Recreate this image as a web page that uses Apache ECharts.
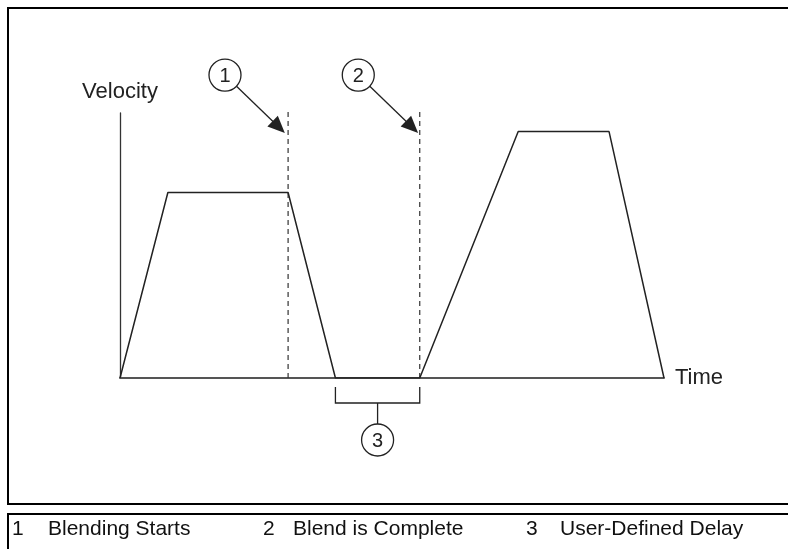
<!DOCTYPE html>
<html>
<head>
<meta charset="utf-8">
<script src="https://cdn.jsdelivr.net/npm/echarts@6/dist/echarts.min.js"></script>
<style>
  html, body { margin: 0; padding: 0; background: #fff; }
  #main { width: 788px; height: 549px; }
</style>
</head>
<body>
<div id="main"></div>
<script>
// velocity profile (time 0..100, velocity 0..100, arbitrary units)
const timePoints = [0, 8.8, 30.9, 39.6, 55.1, 73.2, 89.9, 100];
const velocityPoints = [0, 70, 70, 0, 0, 93, 93, 0];

// dashed markers: blending starts / blend is complete
const markerTimes = [30.9, 55.1];
const markerTop = 101.1;

// numbered callouts with arrows
const calloutLabels = ['1', '2'];
const calloutCircles = [[19.3, 114.3], [43.8, 114.3]];
const arrowTips = [[30.3, 92.5], [54.8, 92.5]];

// user-defined delay bracket
const delaySpan = [39.6, 55.1];
const delayLabel = '3';

// footer legend
const legendNums = ['1', '2', '3'];
const legendTexts = ['Blending Starts', 'Blend is Complete', 'User-Defined Delay'];

const FONT = "'Liberation Sans', Arial, sans-serif";
const INK = '#222';

const chart = echarts.init(document.getElementById('main'), null, { renderer: 'canvas' });

function circleWithNumber(x, y, text) {
  return [
    { type: 'circle', shape: { cx: x, cy: y, r: 16 }, style: { fill: '#fff', stroke: INK, lineWidth: 1.3 } },
    { type: 'text', style: { text: text, x: x, y: y + 1, align: 'center', verticalAlign: 'middle',
      font: '20px ' + FONT, fill: INK } }
  ];
}

function renderCallout(params, api) {
  const c = api.coord([api.value(0), api.value(1)]);
  const t = api.coord([api.value(2), api.value(3)]);
  const dx = t[0] - c[0], dy = t[1] - c[1];
  const len = Math.hypot(dx, dy);
  const ux = dx / len, uy = dy / len;
  const s = [c[0] + ux * 16, c[1] + uy * 16];
  const headLen = 17, headW = 7.5;
  const b = [t[0] - ux * headLen, t[1] - uy * headLen];
  const px = -uy, py = ux;
  return {
    type: 'group',
    children: [
      { type: 'line', shape: { x1: s[0], y1: s[1], x2: b[0] + ux * 2, y2: b[1] + uy * 2 }, style: { stroke: INK, lineWidth: 1.3 } },
      { type: 'polygon', shape: { points: [t, [b[0] + px * headW, b[1] + py * headW], [b[0] - px * headW, b[1] - py * headW]] },
        style: { fill: INK } }
    ].concat(circleWithNumber(c[0], c[1], calloutLabels[params.dataIndex]))
  };
}

function renderBracket(params, api) {
  const l = api.coord([api.value(0), 0]);
  const r = api.coord([api.value(1), 0]);
  const y0 = l[1];
  const mid = (l[0] + r[0]) / 2;
  return {
    type: 'group',
    children: [
      { type: 'polyline', shape: { points: [[l[0], y0 + 9], [l[0], y0 + 25], [r[0], y0 + 25], [r[0], y0 + 9]] },
        style: { stroke: INK, lineWidth: 1.3, fill: null } },
      { type: 'line', shape: { x1: mid, y1: y0 + 25, x2: mid, y2: y0 + 46 }, style: { stroke: INK, lineWidth: 1.3 } }
    ].concat(circleWithNumber(mid, y0 + 62, delayLabel))
  };
}

const legendX = [[12, 48], [263, 293], [526, 560]];
const graphics = [
  { type: 'rect', shape: { x: 8, y: 8, width: 800, height: 496 }, style: { fill: null, stroke: '#000', lineWidth: 2 }, silent: true },
  { type: 'polyline', shape: { points: [[8, 560], [8, 514], [800, 514]] }, style: { fill: null, stroke: '#000', lineWidth: 2 }, silent: true }
];
legendNums.forEach((n, i) => {
  graphics.push({ type: 'text', x: legendX[i][0], y: 529, style: { text: n, font: '21px ' + FONT, fill: '#111', verticalAlign: 'middle' } });
  graphics.push({ type: 'text', x: legendX[i][1], y: 529, style: { text: legendTexts[i], font: '21px ' + FONT, fill: '#111', verticalAlign: 'middle' } });
});

const option = {
  backgroundColor: '#fff',
  animation: false,
  grid: { left: 120, top: 113, width: 544, height: 265, containLabel: false, outerBoundsMode: 'none' },
  xAxis: {
    type: 'value', min: 0, max: 100,
    name: 'Time', nameLocation: 'end', nameGap: 11,
    nameTextStyle: { fontFamily: FONT, fontSize: 22, color: INK, verticalAlign: 'middle', align: 'left' },
    axisLine: { show: true, onZero: false, lineStyle: { color: '#555', width: 2 } },
    axisTick: { show: false }, axisLabel: { show: false }, splitLine: { show: false }
  },
  yAxis: {
    type: 'value', min: 0, max: 100,
    name: 'Velocity', nameLocation: 'end', nameGap: 10,
    nameTextStyle: { fontFamily: FONT, fontSize: 22, color: INK, align: 'center' },
    axisLine: { show: true, onZero: false, lineStyle: { color: '#333', width: 1.3 } },
    axisTick: { show: false }, axisLabel: { show: false }, splitLine: { show: false }
  },
  graphic: graphics,
  series: [
    {
      type: 'line',
      data: timePoints.map((t, i) => [t, velocityPoints[i]]),
      symbol: 'none',
      lineStyle: { color: INK, width: 1.5 },
      z: 3
    },
    ...markerTimes.map(t => ({
      type: 'line',
      data: [[t, 0], [t, markerTop]],
      symbol: 'none',
      clip: false,
      lineStyle: { color: '#333', width: 1.2, type: [5, 4] },
      z: 2
    })),
    {
      type: 'custom',
      renderItem: renderCallout,
      clip: false,
      data: calloutCircles.map((c, i) => [c[0], c[1], arrowTips[i][0], arrowTips[i][1]]),
      z: 4
    },
    {
      type: 'custom',
      renderItem: renderBracket,
      clip: false,
      data: [delaySpan],
      z: 4
    }
  ]
};

chart.setOption(option);
</script>
</body>
</html>
